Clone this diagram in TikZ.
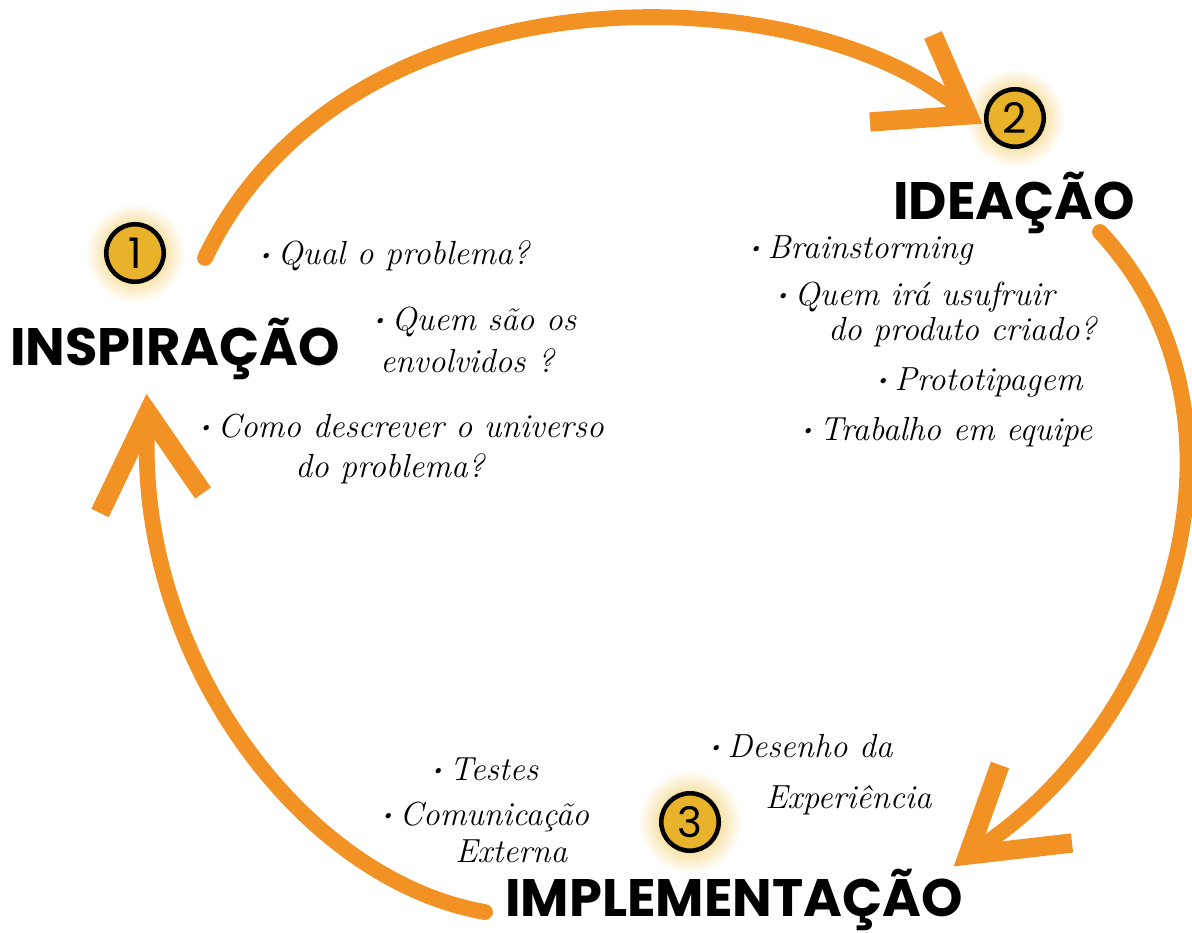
\documentclass[tikz,border=0pt]{standalone}
\usepackage{fontspec}
\newfontfamily\titlefont{Poppins}
\usetikzlibrary{calc}
\definecolor{arroworange}{RGB}{243,146,36}
\definecolor{phasegold}{RGB}{232,178,42}
\definecolor{glowgold}{RGB}{238,186,50}
\def\hdot{\raisebox{.3ex}{\scalebox{.55}{\textbullet}}\,}
\tikzset{
  phase/.style={circle, draw=black, line width=2.6pt, fill=phasegold, minimum size=1.15cm, inner sep=0pt, font=\titlefont\fontsize{24}{24}\selectfont},
  phasename/.style={anchor=base west, inner sep=0pt, font=\titlefont\bfseries\fontsize{30}{30}\selectfont},
  handnote/.style={anchor=base west, inner sep=0pt, font=\itshape\fontsize{19}{22}\selectfont},
  cycarrow/.style={draw=arroworange, line width=9pt, line cap=round},
  headv/.style={draw=arroworange, line width=11pt, line cap=butt, line join=miter},
}

\begin{document}
\begin{tikzpicture}[x=0.02cm, y=-0.02cm]
			%%%%% START %%%%%
			\useasboundingbox (0, 0) rectangle (1192, 932);
			
			% glow behind the numbers
			\shade[inner color=glowgold, outer color=white] (135, 253) circle (50);
			\shade[inner color=glowgold, outer color=white] (1015, 118) circle (50);
			\shade[inner color=glowgold, outer color=white] (690, 822) circle (52);
			
			% ends of the three arrows
			\coordinate (a1s) at (205, 258);
			\coordinate (a1e) at (968, 115);
			\coordinate (a2s) at (1100, 232);
			\coordinate (a2e) at (968, 855);
			\coordinate (a3s) at (485, 912);
			\coordinate (a3e) at (148, 413);
			
			\draw[cycarrow] (a1s) .. controls (350, -45) and (820, -25) .. (a1e);
			\draw[headv] (933, 35) -- (a1e) -- (870, 122);
			
			\draw[cycarrow] (a2s) .. controls (1275, 420) and (1165, 735) .. (a2e);
			\draw[headv] (1000, 765) -- (a2e) -- (1072, 843);
			
			\draw[cycarrow] (a3s) .. controls (300, 880) and (130, 650) .. (a3e);
			\draw[headv] (100, 513) -- (a3e) -- (203, 493);
			
			% numbers
			\node[phase] (c1) at (135, 253) {1};
			\node[phase] (c2) at (1015, 118) {2};
			\node[phase] (c3) at (690, 822) {3};
			
			% phase names
			\node[phasename] (t1) at (10, 365) {INSPIRAÇÃO};
			\node[phasename] (t2) at (893, 220) {IDEAÇÃO};
			\node[phasename] (t3) at (505, 916) {IMPLEMENTAÇÃO};
			
			% inspiração
			\node[handnote] (n1a) at (258, 265) {\hdot Qual o problema?};
			\node[handnote] (n1b) at (372, 330) {\hdot Quem são os};
			\node[handnote] (n1c) at (380, 372) {envolvidos ?};
			\node[handnote] (n1d) at (198, 437) {\hdot Como descrever o universo};
			\node[handnote] (n1e) at (295, 477) {do problema?};
			
			% ideação
			\node[handnote] (n2a) at (748, 258) {\hdot Brainstorming};
			\node[handnote] (n2b) at (775, 305) {\hdot Quem irá usufruir};
			\node[handnote] (n2c) at (828, 340) {do produto criado?};
			\node[handnote] (n2d) at (875, 390) {\hdot Prototipagem};
			\node[handnote] (n2e) at (800, 440) {\hdot Trabalho em equipe};
			
			% implementação
			\node[handnote] (n3a) at (430, 780) {\hdot Testes};
			\node[handnote] (n3b) at (380, 825) {\hdot Comunicação};
			\node[handnote] (n3c) at (455, 862) {Externa};
			\node[handnote] (n3d) at (708, 757) {\hdot Desenho da};
			\node[handnote] (n3e) at (765, 808) {Experiência};
			
			%%%%% END %%%%%
		\end{tikzpicture}
\end{document}
